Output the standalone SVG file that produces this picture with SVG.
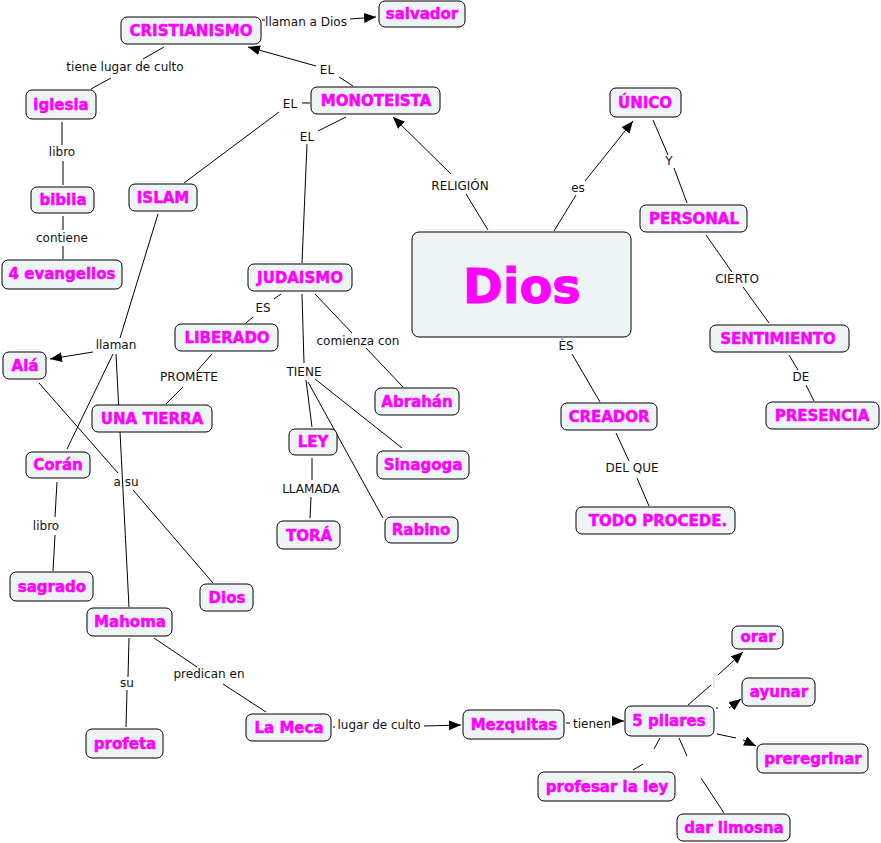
<svg xmlns="http://www.w3.org/2000/svg" width="881" height="843" viewBox="0 0 881 843">
<style>
.node rect{fill:#eef3f5;stroke:#000;stroke-width:1}
.node text{font-family:"DejaVu Sans",Verdana,sans-serif;font-weight:bold;font-size:15px;fill:#ff00ff;stroke:#ff00ff;stroke-width:0.5;text-anchor:middle}
.lbl{font-family:"DejaVu Sans",Verdana,sans-serif;font-size:12px;fill:#111;text-anchor:middle}
#connectors line{stroke:#000;stroke-width:1;fill:none}
.arr{marker-end:url(#ah)}
</style>
<defs>
<marker id="ah" markerUnits="userSpaceOnUse" markerWidth="14" markerHeight="12" refX="12" refY="5" orient="auto">
<path d="M0,0 L12,5 L0,10 z" fill="#000"/>
</marker>
</defs>
<rect width="881" height="843" fill="#fff"/>
<g id="connectors">
<line x1="262" y1="20" x2="265" y2="20"/>
<line class="arr" x1="350" y1="19" x2="376" y2="17"/>
<line x1="353" y1="86" x2="339" y2="77"/>
<line class="arr" x1="316" y1="66" x2="248" y2="47"/>
<line x1="302" y1="103" x2="310" y2="103"/>
<line x1="279" y1="112" x2="184" y2="183"/>
<line x1="346" y1="117" x2="318" y2="131"/>
<line x1="307" y1="144" x2="302" y2="263"/>
<line x1="164" y1="47" x2="143" y2="59"/>
<line x1="111" y1="78" x2="91" y2="89"/>
<line x1="62" y1="122" x2="62" y2="145"/>
<line x1="63" y1="161" x2="63" y2="185"/>
<line x1="63" y1="216" x2="63" y2="230"/>
<line x1="63" y1="246" x2="63" y2="259"/>
<line x1="488" y1="230" x2="466" y2="194"/>
<line class="arr" x1="451" y1="174" x2="393" y2="117"/>
<line x1="554" y1="231" x2="576" y2="195"/>
<line class="arr" x1="585" y1="181" x2="633" y2="121"/>
<line x1="653" y1="120" x2="668" y2="155"/>
<line x1="674" y1="168" x2="687" y2="203"/>
<line x1="706" y1="235" x2="732" y2="272"/>
<line x1="743" y1="287" x2="769" y2="323"/>
<line x1="789" y1="355" x2="798" y2="370"/>
<line x1="806" y1="385" x2="814" y2="401"/>
<line x1="572" y1="354" x2="600" y2="402"/>
<line x1="616" y1="433" x2="629" y2="461"/>
<line x1="637" y1="478" x2="649" y2="506"/>
<line x1="281" y1="294" x2="274" y2="299"/>
<line x1="253" y1="317" x2="246" y2="323"/>
<line x1="315" y1="294" x2="352" y2="333"/>
<line x1="366" y1="348" x2="403" y2="387"/>
<line x1="302" y1="294" x2="304" y2="363"/>
<line x1="306" y1="380" x2="312" y2="427"/>
<line x1="315" y1="379" x2="402" y2="448"/>
<line x1="308" y1="382" x2="383" y2="518"/>
<line x1="312" y1="458" x2="312" y2="480"/>
<line x1="311" y1="497" x2="310" y2="518"/>
<line x1="212" y1="354" x2="197" y2="371"/>
<line x1="183" y1="387" x2="166" y2="404"/>
<line x1="158" y1="214" x2="120" y2="338"/>
<line class="arr" x1="93" y1="352" x2="50" y2="359"/>
<line x1="113" y1="354" x2="67" y2="449"/>
<line x1="116" y1="354" x2="129" y2="607"/>
<line x1="39" y1="383" x2="118" y2="473"/>
<line x1="133" y1="490" x2="213" y2="583"/>
<line x1="57" y1="482" x2="55" y2="517"/>
<line x1="55" y1="535" x2="53" y2="571"/>
<line x1="129" y1="638" x2="128" y2="677"/>
<line x1="127" y1="690" x2="126" y2="727"/>
<line x1="154" y1="638" x2="197" y2="667"/>
<line x1="223" y1="684" x2="266" y2="712"/>
<line x1="333" y1="727" x2="335" y2="727"/>
<line class="arr" x1="424" y1="726" x2="461" y2="725"/>
<line x1="566" y1="723" x2="570" y2="723"/>
<line class="arr" x1="612" y1="721" x2="624" y2="721"/>
<line x1="688" y1="705" x2="711" y2="685"/>
<line x1="714" y1="672" x2="714" y2="687" style="stroke:#ccc"/>
<line class="arr" x1="718" y1="675" x2="743" y2="652"/>
<line x1="716" y1="708" x2="718" y2="708"/>
<line class="arr" x1="729" y1="708" x2="741" y2="699"/>
<line x1="717" y1="734" x2="736" y2="738"/>
<line class="arr" x1="743" y1="740" x2="756" y2="746"/>
<line x1="660" y1="738" x2="654" y2="749"/>
<line x1="643" y1="764" x2="633" y2="770"/>
<line x1="679" y1="738" x2="687" y2="756"/>
<line x1="701" y1="778" x2="724" y2="813"/>
</g>
<g id="labels">
<text class="lbl" x="306" y="26">llaman a Dios</text>
<text class="lbl" x="327" y="74">EL</text>
<text class="lbl" x="290" y="108">EL</text>
<text class="lbl" x="307" y="141">EL</text>
<text class="lbl" x="125" y="71">tiene lugar de culto</text>
<text class="lbl" x="62" y="156">libro</text>
<text class="lbl" x="62" y="242">contiene</text>
<text class="lbl" x="460" y="190">RELIGIÓN</text>
<text class="lbl" x="578" y="192">es</text>
<text class="lbl" x="669" y="165">Y</text>
<text class="lbl" x="737" y="283">CIERTO</text>
<text class="lbl" x="801" y="381">DE</text>
<text class="lbl" x="566" y="350">ÈS</text>
<text class="lbl" x="632" y="472">DEL QUE</text>
<text class="lbl" x="263" y="312">ES</text>
<text class="lbl" x="358" y="345">comienza con</text>
<text class="lbl" x="304" y="376">TIENE</text>
<text class="lbl" x="311" y="493">LLAMADA</text>
<text class="lbl" x="189" y="381">PROMETE</text>
<text class="lbl" x="116" y="349">llaman</text>
<text class="lbl" x="126" y="486">a su</text>
<text class="lbl" x="46" y="530">libro</text>
<text class="lbl" x="127" y="687">su</text>
<text class="lbl" x="209" y="678">predican en</text>
<text class="lbl" x="379" y="729">lugar de culto</text>
<text class="lbl" x="592" y="728">tienen</text>
</g>
<g id="n_cristianismo" class="node"><rect x="121" y="17" width="140" height="27" rx="6"/><text x="191" y="36">CRISTIANISMO</text></g>
<g id="n_salvador" class="node"><rect x="379" y="1" width="86" height="26" rx="6"/><text x="422" y="19">salvador</text></g>
<g id="n_monoteista" class="node"><rect x="311" y="87" width="129" height="27" rx="6"/><text x="376" y="106">MONOTEISTA</text></g>
<g id="n_iglesia" class="node"><rect x="26" y="90" width="70" height="29" rx="6"/><text x="61" y="110">iglesia</text></g>
<g id="n_biblia" class="node"><rect x="31" y="187" width="63" height="26" rx="6"/><text x="63" y="205">biblia</text></g>
<g id="n_evangelios" class="node"><rect x="2" y="260" width="120" height="29" rx="6"/><text x="62" y="279">4 evangelios</text></g>
<g id="n_islam" class="node"><rect x="129" y="184" width="68" height="27" rx="6"/><text x="163" y="203">ISLAM</text></g>
<g id="n_judaismo" class="node"><rect x="248" y="264" width="104" height="27" rx="6"/><text x="300" y="283">JUDAISMO</text></g>
<g id="n_dios" class="node"><rect x="412" y="232" width="219" height="105" rx="7"/><text x="522" y="303" style="font-size:48px;stroke-width:1">Dios</text></g>
<g id="n_unico" class="node"><rect x="610" y="88" width="71" height="29" rx="6"/><text x="645" y="108">ÚNICO</text></g>
<g id="n_personal" class="node"><rect x="640" y="205" width="107" height="27" rx="6"/><text x="694" y="224">PERSONAL</text></g>
<g id="n_sentimiento" class="node"><rect x="710" y="325" width="139" height="27" rx="6"/><text x="778" y="344">SENTIMIENTO</text></g>
<g id="n_liberado" class="node"><rect x="175" y="324" width="103" height="27" rx="6"/><text x="227" y="343">LIBERADO</text></g>
<g id="n_ala" class="node"><rect x="3" y="352" width="43" height="27" rx="6"/><text x="25" y="371">Alá</text></g>
<g id="n_unatierra" class="node"><rect x="92" y="405" width="120" height="27" rx="6"/><text x="152" y="424">UNA TIERRA</text></g>
<g id="n_coran" class="node"><rect x="26" y="452" width="64" height="26" rx="6"/><text x="58" y="470">Corán</text></g>
<g id="n_abrahan" class="node"><rect x="375" y="388" width="84" height="27" rx="6"/><text x="417" y="407">Abrahán</text></g>
<g id="n_ley" class="node"><rect x="289" y="429" width="48" height="26" rx="6"/><text x="313" y="447">LEY</text></g>
<g id="n_sinagoga" class="node"><rect x="377" y="451" width="92" height="28" rx="6"/><text x="423" y="470">Sinagoga</text></g>
<g id="n_tora" class="node"><rect x="277" y="521" width="63" height="28" rx="6"/><text x="309" y="541">TORÁ</text></g>
<g id="n_rabino" class="node"><rect x="385" y="517" width="73" height="26" rx="6"/><text x="421" y="535">Rabino</text></g>
<g id="n_creador" class="node"><rect x="561" y="403" width="96" height="27" rx="6"/><text x="609" y="422">CREADOR</text></g>
<g id="n_presencia" class="node"><rect x="766" y="402" width="113" height="27" rx="6"/><text x="822" y="421">PRESENCIA</text></g>
<g id="n_todo" class="node"><rect x="576" y="507" width="159" height="27" rx="6"/><text x="658" y="526">TODO PROCEDE.</text></g>
<g id="n_sagrado" class="node"><rect x="10" y="572" width="83" height="29" rx="6"/><text x="52" y="592">sagrado</text></g>
<g id="n_dios2" class="node"><rect x="200" y="584" width="53" height="27" rx="6"/><text x="227" y="603">Dios</text></g>
<g id="n_mahoma" class="node"><rect x="87" y="608" width="85" height="28" rx="6"/><text x="130" y="627">Mahoma</text></g>
<g id="n_profeta" class="node"><rect x="86" y="729" width="77" height="29" rx="6"/><text x="125" y="749">profeta</text></g>
<g id="n_lameca" class="node"><rect x="246" y="714" width="85" height="27" rx="6"/><text x="289" y="733">La Meca</text></g>
<g id="n_mezquitas" class="node"><rect x="463" y="710" width="101" height="29" rx="6"/><text x="514" y="730">Mezquitas</text></g>
<g id="n_pilares" class="node"><rect x="625" y="706" width="89" height="30" rx="6"/><text x="669" y="726">5 pilares</text></g>
<g id="n_orar" class="node"><rect x="732" y="626" width="51" height="23" rx="6"/><text x="758" y="642">orar</text></g>
<g id="n_ayunar" class="node"><rect x="742" y="678" width="73" height="28" rx="6"/><text x="779" y="697">ayunar</text></g>
<g id="n_preregrinar" class="node"><rect x="757" y="744" width="111" height="29" rx="6"/><text x="813" y="764">preregrinar</text></g>
<g id="n_profesar" class="node"><rect x="538" y="772" width="137" height="29" rx="6"/><text x="607" y="792">profesar la ley</text></g>
<g id="n_limosna" class="node"><rect x="677" y="814" width="113" height="27" rx="6"/><text x="734" y="833">dar limosna</text></g>
</svg>
